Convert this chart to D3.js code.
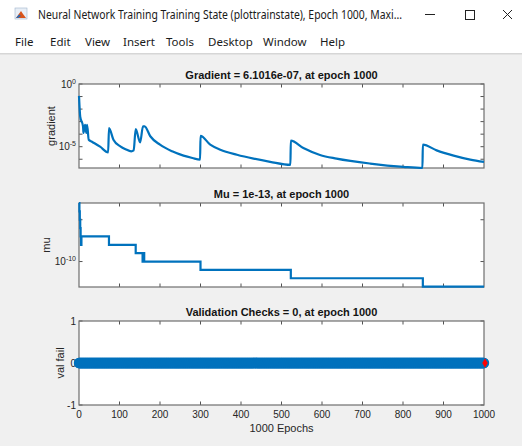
<!DOCTYPE html>
<html>
<head>
<meta charset="utf-8">
<script src="https://cdn.jsdelivr.net/npm/d3@7"></script>
<style>
  body { margin: 0; background: #f0f0f0; }
  svg { display: block; }
</style>
</head>
<body>
<div id="chart-container"></div>
<script>
// Training state data
const gradEpochs = [0, 3, 10, 11, 15, 18, 20, 24, 32, 52, 72, 74, 85, 102, 115, 129, 135, 140, 151, 158, 162, 176, 200, 230, 258, 280, 299, 300, 324, 349, 390, 431, 472, 522, 523, 554, 595, 636, 719, 801, 848, 849, 883, 925, 966, 1000];
const gradValues = [0.112, 2.5e-3, 4.1e-4, 1.26e-4, 5.6e-4, 1.26e-4, 5.6e-4, 3.6e-5, 2.5e-5, 1.0e-5, 3.5e-6, 3.0e-4, 3.6e-5, 1.07e-5, 6.3e-6, 4.3e-6, 5.1e-6, 2.5e-4, 2.2e-5, 4.2e-4, 4.2e-4, 6.8e-5, 1.45e-5, 4.3e-6, 1.95e-6, 1.26e-6, 9.3e-7, 7.4e-5, 1.45e-5, 5.8e-6, 2.3e-6, 1.12e-6, 6.2e-7, 3.5e-7, 3.0e-5, 7.9e-6, 2.2e-6, 1.12e-6, 4.5e-7, 2.45e-7, 2.0e-7, 1.45e-5, 5.1e-6, 1.95e-6, 9.3e-7, 6.1016e-7];

const muEpochs = [0, 1, 2, 3, 4, 5, 6, 74, 140, 157, 158, 159, 160, 161, 162, 300, 523, 849, 1000];
const muValues = [1e-3, 1e-4, 1e-5, 1e-6, 1e-7, 1e-8, 1e-7, 1e-8, 1e-9, 1e-10, 1e-9, 1e-10, 1e-9, 1e-10, 1e-10, 1e-11, 1e-12, 1e-13, 1e-13];

const valEpochs = d3.range(0, 1001);
const valValues = valEpochs.map(() => 0);

const xTicks = [0, 100, 200, 300, 400, 500, 600, 700, 800, 900, 1000];
const gradTicks = [1, 1e-1, 1e-2, 1e-3, 1e-4, 1e-5, 1e-6];
const gradLabels = [1, 1e-5];
const muTicks = [1e-5, 1e-10];
const muLabels = [1e-10];
const valTicks = [-1, 0, 1];

const titles = ["Gradient = 6.1016e-07, at epoch 1000", "Mu = 1e-13, at epoch 1000", "Validation Checks = 0, at epoch 1000"];
const menuItems = ["File", "Edit", "View", "Insert", "Tools", "Desktop", "Window", "Help"];
const menuX = [15, 50, 85, 123, 166, 208, 263, 320];

function init() {
    const width = 522, height = 446;
    const blue = "#0072bd", ink = "#262626", frame = "#6e6e6e";
    const font = "'Liberation Sans', Arial, sans-serif";
    const uiFont = "'Segoe UI', 'Noto Sans', sans-serif";

    const svg = d3.select("#chart-container").append("svg")
        .attr("width", width).attr("height", height);

    // window chrome
    svg.append("rect").attr("width", width).attr("height", height).attr("fill", "#f0f0f0");
    svg.append("rect").attr("width", width).attr("height", 53).attr("fill", "#ffffff");
    svg.append("rect").attr("y", 53).attr("width", width).attr("height", 1.5).attr("fill", "#d6d6d6");

    // matlab-ish icon
    const icon = svg.append("g").attr("transform", "translate(15,8)");
    icon.append("rect").attr("width", 12).attr("height", 11).attr("fill", "#e8eef6").attr("stroke", "#9fb4cc").attr("stroke-width", 0.6);
    icon.append("path").attr("d", "M1,10 L6,3 L8,6 L11,10 Z").attr("fill", "#d9541a");
    icon.append("path").attr("d", "M1,10 L4,6.5 L6,8 L3,10 Z").attr("fill", "#2a6bb5");

    svg.append("text").attr("x", 38).attr("y", 19)
        .attr("font-family", uiFont).attr("font-size", 12).attr("fill", "#1a1a1a")
        .attr("textLength", 364).attr("lengthAdjust", "spacingAndGlyphs")
        .text("Neural Network Training Training State (plottrainstate), Epoch 1000, Maxi...");

    svg.append("line").attr("x1", 425).attr("x2", 435).attr("y1", 14.5).attr("y2", 14.5)
        .attr("stroke", "#222").attr("stroke-width", 1);
    svg.append("rect").attr("x", 465.5).attr("y", 10.5).attr("width", 9).attr("height", 9)
        .attr("fill", "none").attr("stroke", "#222").attr("stroke-width", 1);
    svg.append("path").attr("d", "M503,10 L512,19 M512,10 L503,19")
        .attr("stroke", "#222").attr("stroke-width", 1);

    svg.selectAll(".menu").data(menuItems).enter().append("text")
        .attr("x", (d, i) => menuX[i]).attr("y", 46)
        .attr("font-family", uiFont).attr("font-size", 11.5).attr("fill", "#1a1a1a")
        .text(d => d);

    // axes geometry
    const left = 79, right = 484;
    const panels = [{ top: 84, bottom: 168 }, { top: 203, bottom: 287 }, { top: 321, bottom: 405 }];

    const x = d3.scaleLinear().domain([0, 1000]).range([left, right]);
    const yGrad = d3.scaleLog().domain([2e-7, 1]).range([panels[0].bottom, panels[0].top]);
    const yMu = d3.scaleLog().domain([9e-14, 1e-3]).range([panels[1].bottom, panels[1].top]);
    const yVal = d3.scaleLinear().domain([-1, 1]).range([panels[2].bottom, panels[2].top]);

    function powLabel(sel, v) {
        const e = Math.round(Math.log10(v));
        sel.append("tspan").text("10");
        sel.append("tspan").attr("dy", -4).attr("font-size", 7).text(e);
    }

    function frameAxes(p, y, labelVals, isLog, title, ylabel) {
        const g = svg.append("g");
        g.append("rect").attr("x", left).attr("y", p.top).attr("width", right - left).attr("height", p.bottom - p.top)
            .attr("fill", "#ffffff");
        // title
        g.append("text").attr("x", (left + right) / 2).attr("y", p.top - 5)
            .attr("text-anchor", "middle").attr("font-family", font).attr("font-size", 11)
            .attr("font-weight", "bold").attr("fill", "#141414").text(title);
        // y label
        g.append("text").attr("transform", `translate(${ylabel.x},${(p.top + p.bottom) / 2}) rotate(-90)`)
            .attr("text-anchor", "middle").attr("dy", "0.35em")
            .attr("font-family", font).attr("font-size", 11).attr("fill", ink).text(ylabel.text);
        // y tick labels
        labelVals.forEach(v => {
            const t = g.append("text").attr("x", 76).attr("y", y(v)).attr("dy", "0.35em")
                .attr("text-anchor", "end").attr("font-family", font).attr("font-size", 10).attr("fill", ink);
            if (isLog) powLabel(t, v); else t.text(v);
        });
    }

    function drawTicks(p, y, yTicks) {
        const g = svg.append("g").attr("stroke", ink).attr("stroke-width", 0.8);
        xTicks.slice(1, -1).forEach(v => {
            g.append("line").attr("x1", x(v)).attr("x2", x(v)).attr("y1", p.bottom).attr("y2", p.bottom - 3.5);
            g.append("line").attr("x1", x(v)).attr("x2", x(v)).attr("y1", p.top).attr("y2", p.top + 3.5);
        });
        yTicks.forEach(v => {
            g.append("line").attr("x1", left).attr("x2", left + 3.5).attr("y1", y(v)).attr("y2", y(v));
            g.append("line").attr("x1", right).attr("x2", right - 3.5).attr("y1", y(v)).attr("y2", y(v));
        });
        svg.append("rect").attr("x", left).attr("y", p.top).attr("width", right - left).attr("height", p.bottom - p.top)
            .attr("fill", "none").attr("stroke", frame).attr("stroke-width", 1.2);
    }

    frameAxes(panels[0], yGrad, gradLabels, true, titles[0], { x: 51, text: "gradient" });
    frameAxes(panels[1], yMu, muLabels, true, titles[1], { x: 46.5, text: "mu" });
    frameAxes(panels[2], yVal, valTicks, false, titles[2], { x: 60, text: "val fail" });

    drawTicks(panels[0], yGrad, gradTicks);
    drawTicks(panels[1], yMu, muTicks);
    drawTicks(panels[2], yVal, valTicks);

    // gradient line
    const gradData = gradEpochs.map((e, i) => [e, gradValues[i]]);
    svg.append("path").datum(gradData)
        .attr("d", d3.line().x(d => x(d[0])).y(d => yGrad(d[1])).curve(d3.curveMonotoneX))
        .attr("fill", "none").attr("stroke", blue).attr("stroke-width", 2.2).attr("stroke-linejoin", "round");

    // mu line
    const muData = muEpochs.map((e, i) => [e, muValues[i]]);
    svg.append("path").datum(muData)
        .attr("d", d3.line().x(d => x(d[0])).y(d => yMu(d[1])).curve(d3.curveStepAfter))
        .attr("fill", "none").attr("stroke", blue).attr("stroke-width", 2.2);

    // validation checks markers
    svg.append("g").selectAll("circle").data(valEpochs).enter().append("circle")
        .attr("cx", d => x(d)).attr("cy", (d, i) => yVal(valValues[i])).attr("r", 5.2)
        .attr("fill", blue);
    svg.append("path")
        .attr("d", d3.symbol().type(d3.symbolDiamond).size(26))
        .attr("transform", `translate(${x(1000) + 1},${yVal(0)})`)
        .attr("fill", "#ff0000");

    // x tick labels and label
    svg.append("g").selectAll("text").data(xTicks).enter().append("text")
        .attr("x", d => x(d)).attr("y", 418).attr("text-anchor", "middle")
        .attr("font-family", font).attr("font-size", 10).attr("fill", ink).text(d => d);
    svg.append("text").attr("x", (left + right) / 2).attr("y", 432).attr("text-anchor", "middle")
        .attr("font-family", font).attr("font-size", 11).attr("fill", ink).text("1000 Epochs");
}

window.onload = init;
</script>
</body>
</html>
